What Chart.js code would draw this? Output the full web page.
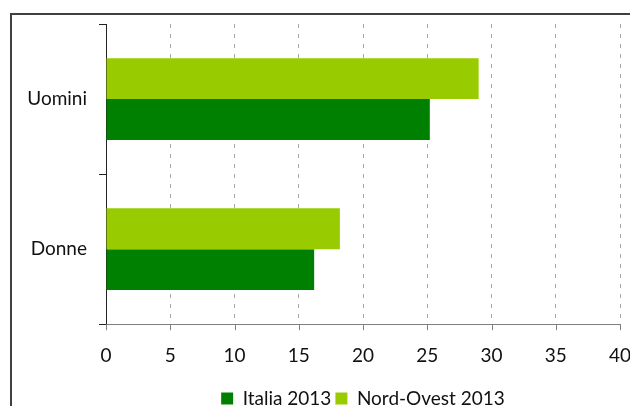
<!DOCTYPE html>
<html>
<head>
<meta charset="utf-8">
<script src="https://cdn.jsdelivr.net/npm/chart.js@4.4.1/dist/chart.umd.min.js"></script>
<style>
  html,body{margin:0;padding:0;background:#fff;}
  #wrap{position:relative;width:630px;height:406px;overflow:hidden;}
  #frame{position:absolute;left:10px;top:13px;width:700px;height:500px;border:2px solid #404040;pointer-events:none;}
</style>
</head>
<body>
<div id="wrap">
  <canvas id="chart" width="630" height="406"></canvas>
  <div id="frame"></div>
</div>
<script>
// ---------- DATA ----------
const categories = ['Uomini', 'Donne'];
const italia2013 = [25.2, 16.2];
const nordOvest2013 = [29.0, 18.2];
const xMin = 0, xMax = 40, xStep = 5;

const FONT = 'Lato, "Open Sans", sans-serif';
const FSIZE = 19;
const TEXT = '#111';

// short solid tick marks under the x axis (grid lines are dashed)
const xTickMarks = {
  id: 'xTickMarks',
  afterDraw(chart){
    const x = chart.scales.x, ctx = chart.ctx, y0 = chart.chartArea.bottom;
    ctx.save();
    ctx.strokeStyle = '#7f7f7f';
    ctx.lineWidth = 1;
    x.ticks.forEach(t => {
      const px = Math.round(x.getPixelForValue(t.value)) + 0.5;
      ctx.beginPath();
      ctx.moveTo(px, y0);
      ctx.lineTo(px, y0 + 6);
      ctx.stroke();
    });
    ctx.restore();
  }
};

// legend centered under the plot area rather than the whole canvas
const legendUnderPlot = {
  id: 'legendUnderPlot',
  afterLayout(chart){
    const lg = chart.legend, ca = chart.chartArea;
    lg.left = ca.left;
    lg.right = ca.right;
    lg.width = ca.right - ca.left;
    lg.top -= 2;
    lg.bottom -= 2;
  }
};

const ctx = document.getElementById('chart').getContext('2d');
new Chart(ctx, {
  type: 'bar',
  data: {
    labels: categories,
    datasets: [
      {label: 'Nord-Ovest 2013', data: nordOvest2013, backgroundColor: '#99cc00'},
      {label: 'Italia 2013', data: italia2013, backgroundColor: '#008000'}
    ]
  },
  options: {
    indexAxis: 'y',
    responsive: false,
    animation: false,
    datasets: {bar: {barPercentage: 1, categoryPercentage: 0.545, borderWidth: 0}},
    layout: {padding: {top: 24, left: 0, right: 0, bottom: -14}},
    scales: {
      x: {
        min: xMin, max: xMax,
        afterFit(scale){ scale.paddingRight = 10; scale.paddingLeft = 0; },
        ticks: {stepSize: xStep, padding: 20, color: TEXT, font: {family: FONT, size: FSIZE}},
        grid: {color: '#a6a6a6', drawTicks: false},
        border: {color: '#7f7f7f', dash: [4, 6]}
      },
      y: {
        afterFit(scale){ scale.width = 106; },
        ticks: {padding: 12, color: TEXT, font: {family: FONT, size: FSIZE}},
        grid: {drawOnChartArea: false, tickLength: 7, tickColor: '#222'},
        border: {color: '#222'}
      }
    },
    plugins: {
      tooltip: {enabled: false},
      legend: {
        position: 'bottom',
        labels: {
          boxWidth: 12, boxHeight: 12, padding: 4, color: TEXT,
          font: {family: FONT, size: FSIZE},
          sort: (a, b) => b.datasetIndex - a.datasetIndex
        }
      }
    }
  },
  plugins: [xTickMarks, legendUnderPlot]
});
</script>
</body>
</html>
